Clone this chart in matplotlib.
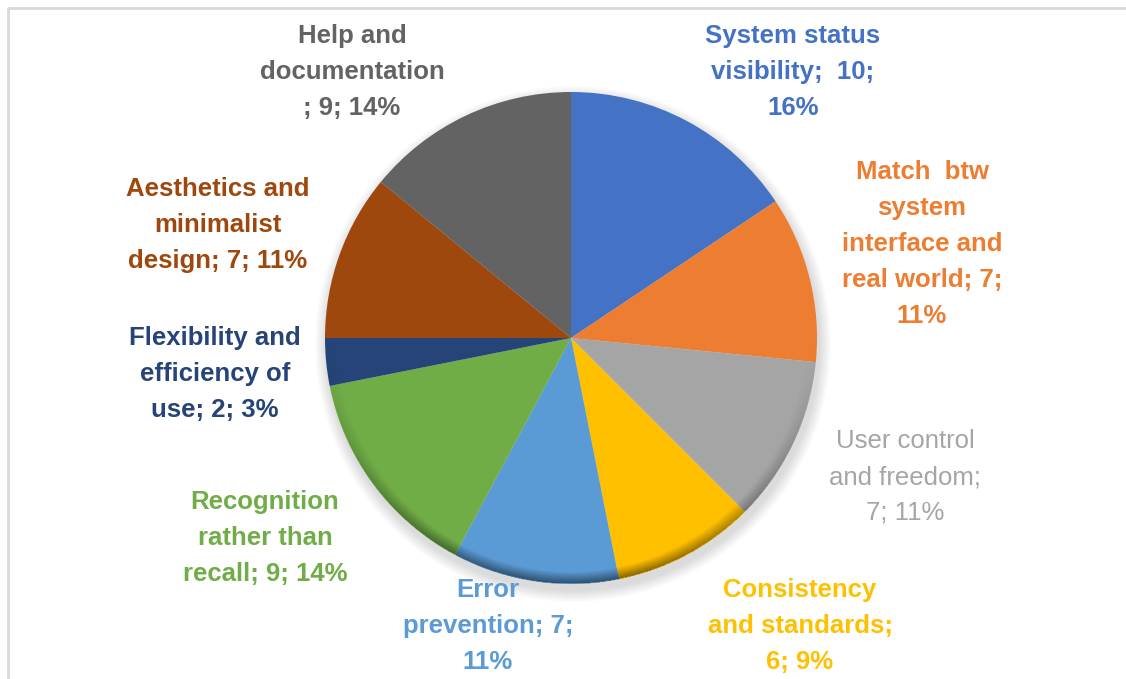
import matplotlib.pyplot as plt
import numpy as np
from matplotlib.patches import Circle

plt.rcParams['font.family'] = ['Liberation Sans', 'DejaVu Sans']

# Heuristic categories and counts
categories = [
    "System status\nvisibility;  10;\n16%",
    "Match  btw\nsystem\ninterface and\nreal world; 7;\n11%",
    "User control\nand freedom;\n7; 11%",
    "Consistency\nand standards;\n6; 9%",
    "Error\nprevention; 7;\n11%",
    "Recognition\nrather than\nrecall; 9; 14%",
    "Flexibility and\nefficiency of\nuse; 2; 3%",
    "Aesthetics and\nminimalist\ndesign; 7; 11%",
    "Help and\ndocumentation\n; 9; 14%",
]
counts = [10, 7, 7, 6, 7, 9, 2, 7, 9]
colors = ["#4472C4", "#ED7D31", "#A5A5A5", "#FFC000", "#5B9BD5",
          "#70AD47", "#264478", "#9E480E", "#636363"]
label_pos = [(793, 72), (922, 244), (905, 477), (800, 626), (488, 626),
             (265, 538), (215, 374), (218, 225), (352, 72)]
bold = [True, True, False, True, True, True, True, True, True]

W, H = 1126, 679
fig = plt.figure(figsize=(W / 100, H / 100), dpi=100)
ax = fig.add_axes([0, 0, 1, 1])

cx, cy, r = 571, H - 338, 246

# soft drop shadow under the pie
for i in range(12):
    ax.add_patch(Circle((cx + 2, cy - 6), r + 12 - i, color='black',
                        alpha=0.012, lw=0, zorder=1))

wedges, _ = ax.pie(counts, colors=colors, startangle=90, counterclock=False,
                   center=(cx, cy), radius=r, frame=True,
                   wedgeprops=dict(linewidth=0, zorder=2))

# bevel: darker rim toward the bottom of the pie
n = 600
gx = np.linspace(cx - r, cx + r, n)
gy = np.linspace(cy - r, cy + r, n)
X, Y = np.meshgrid(gx, gy)
R = np.hypot(X - cx, Y - cy)
theta = np.arctan2(Y - cy, X - cx)
edge = np.clip((R - (r - 12)) / 12, 0, 1)
shade = np.clip(-np.sin(theta), 0, 1) ** 1.5
alpha = 0.5 * edge * shade
alpha[R > r] = 0
rgba = np.zeros((n, n, 4))
rgba[..., 3] = alpha
ax.imshow(rgba, extent=(cx - r, cx + r, cy - r, cy + r), origin='lower',
          zorder=3, interpolation='bilinear')

for text, (x, y), col, b in zip(categories, label_pos, colors, bold):
    ax.text(x, H - y, text, color=col, fontsize=18.5,
            fontweight='bold' if b else 'normal',
            ha='center', va='center', linespacing=1.62, zorder=5)

# panel border
ax.plot([8, 8, W], [0, H - 8, H - 8], color='#d9d9d9', lw=2, zorder=0)

ax.set_xlim(0, W)
ax.set_ylim(0, H)
ax.set_aspect('equal')
ax.axis('off')

fig.savefig('out.png', dpi=100)
